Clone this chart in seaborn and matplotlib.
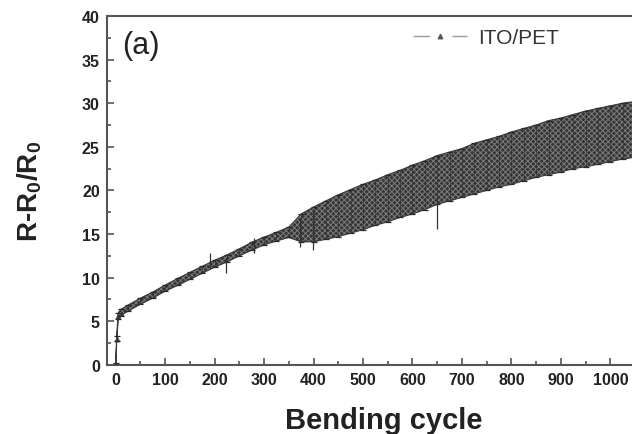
import numpy as np
import pandas as pd
import matplotlib
matplotlib.use("Agg")
import matplotlib.pyplot as plt
import seaborn as sns

# Values (band centre and half spread)
cycles = [0, 2, 5, 10, 25, 50, 75, 100, 125, 150, 175, 200, 225, 250, 275, 300,
          325, 350, 375, 400, 425, 450, 475, 500, 525, 550, 575, 600, 625, 650,
          675, 700, 725, 750, 775, 800, 825, 850, 875, 900, 925, 950, 975, 1000,
          1025, 1050]
resist = [0.0, 3.0, 5.6, 6.0, 6.5, 7.3, 8.0, 8.8, 9.5, 10.2, 10.9, 11.6, 12.2,
          12.9, 13.6, 14.2, 14.7, 15.2, 15.7, 16.1, 16.6, 17.1, 17.6, 18.1, 18.6,
          19.1, 19.6, 20.1, 20.6, 21.2, 21.6, 22.0, 22.5, 22.9, 23.3, 23.7, 24.1,
          24.5, 24.9, 25.2, 25.6, 25.9, 26.2, 26.5, 26.8, 27.0]
spread = [0.2, 0.3, 0.35, 0.35, 0.35, 0.35, 0.35, 0.35, 0.4, 0.4, 0.4, 0.4, 0.4,
          0.4, 0.45, 0.45, 0.5, 0.6, 1.6, 2.0, 2.2, 2.4, 2.5, 2.6, 2.6, 2.7, 2.7,
          2.8, 2.8, 2.8, 2.8, 2.8, 2.9, 2.9, 2.9, 3.0, 3.0, 3.0, 3.1, 3.1, 3.1,
          3.2, 3.2, 3.2, 3.2, 3.2]

# a few isolated long error bars
out_x = [190, 222, 280, 372, 398, 650]
out_lo = [11.0, 10.5, 12.8, 13.5, 13.2, 15.6]
out_hi = [12.8, 12.3, 14.5, 16.8, 17.5, 19.2]

df = pd.DataFrame({"cycle": cycles, "r": resist, "err": spread})
lo = df["r"] - df["err"]
hi = df["r"] + df["err"]

sns.set_theme(style="ticks")
plt.rcParams["font.family"] = ["Liberation Sans", "DejaVu Sans"]
plt.rcParams["mathtext.default"] = "regular"
plt.rcParams["hatch.linewidth"] = 0.7

fig = plt.figure(figsize=(6.32, 4.35), dpi=100)
ax = fig.add_axes([0.169, 0.159, 0.875, 0.802])

# the measured curve sits under the scatter band
sns.lineplot(data=df, x="cycle", y="r", ax=ax, color="#9a9a9a",
             dashes=False, marker="^", markersize=3.5,
             markerfacecolor="#555555", markeredgecolor="#555555",
             linewidth=1.0, label="ITO/PET", zorder=1)
ax.lines[-1].set_dashes((12, 16))

ax.fill_between(df["cycle"], lo, hi, facecolor="#363636", linewidth=0,
                hatch="xxxxxx", edgecolor="#7c7c7c", zorder=2)
ax.fill_between(df["cycle"], lo, hi, facecolor="none", edgecolor="#3a3a3a",
                linewidth=0.8, zorder=3)
ax.errorbar(df["cycle"], df["r"], yerr=df["err"], fmt="none", ecolor="#2a2a2a",
            elinewidth=0.4, capsize=2.0, capthick=0.9, zorder=3)
ax.vlines(out_x, out_lo, out_hi, color="#333333", linewidth=0.9, zorder=3)

ax.set_xlim(-18, 1100)
ax.set_ylim(0, 40)
ax.set_xticks(range(0, 1001, 100))
ax.set_xticks(range(50, 1051, 100), minor=True)
ax.set_yticks(range(0, 41, 5))
ax.set_yticks(np.arange(2.5, 40, 5), minor=True)
ax.tick_params(which="both", direction="in", colors="#555555", width=1.2,
               labelcolor="#222222", labelsize=11.5)
ax.tick_params(which="major", length=5, pad=5)
ax.tick_params(which="minor", length=3)
for lab in ax.get_xticklabels() + ax.get_yticklabels():
    lab.set_fontweight("bold")
for s in ax.spines.values():
    s.set_color("#555555")
    s.set_linewidth(1.5)

ax.set_xlabel("Bending cycle", fontsize=21, fontweight="bold", color="#222222",
              labelpad=14)
ax.set_ylabel("R-R$_0$/R$_0$", fontsize=20, fontweight="bold", color="#222222")
ax.yaxis.set_label_coords(-0.114, 0.5)

ax.text(0.028, 0.96, "(a)", transform=ax.transAxes, fontsize=22,
        color="#222222", va="top")
ax.legend(loc="upper left", bbox_to_anchor=(0.52, 1.018), frameon=False,
          fontsize=15, handlelength=2.6, handletextpad=0.5,
          labelcolor="#333333")

fig.savefig("out.png", dpi=100)
